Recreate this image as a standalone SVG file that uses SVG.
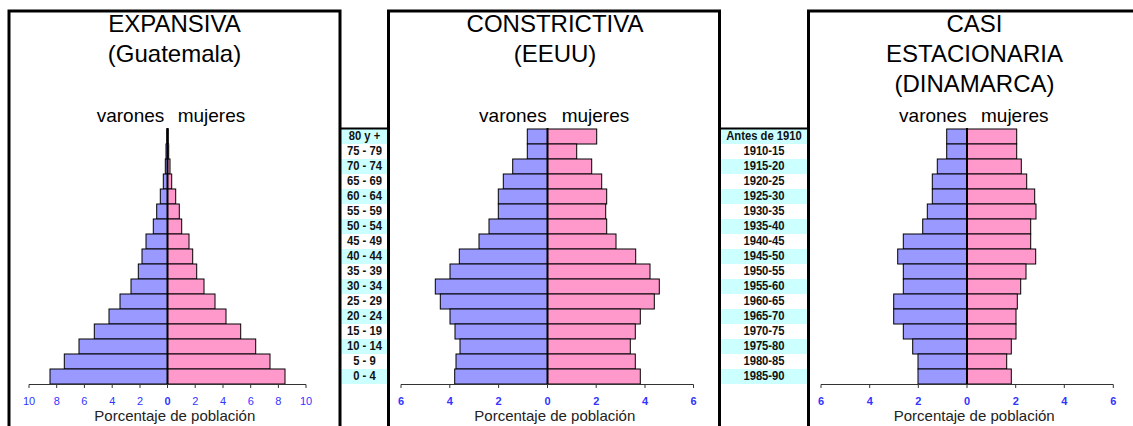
<svg xmlns="http://www.w3.org/2000/svg" width="1133" height="426" viewBox="0 0 1133 426">
<style>
text{font-family:"Liberation Sans",Arial,sans-serif;fill:#000}
.title{font-size:24px;text-anchor:middle}
.sex{font-size:19px}
.e{text-anchor:end}
.tick{font-size:11px;fill:#3333FF;text-anchor:middle}
.tb{font-weight:bold}
.xl{font-size:15px;fill:#222;text-anchor:middle}
.lab{font-family:"Liberation Sans",Arial,sans-serif;font-weight:bold;font-size:12.5px;text-anchor:middle;fill:#111}
.m{fill:#9999FF;stroke:#000;stroke-width:1}
.f{fill:#FF99CC;stroke:#000;stroke-width:1}
.border{fill:none;stroke:#000;stroke-width:3}
.cl{stroke:#000;stroke-width:2}
.axis{fill:none;stroke:#333;stroke-width:1}
.cy{fill:#CCFFFF}
</style>

<!-- label columns -->
<g id="labels-age">
<rect class="cy" x="341.5" y="129" width="45.5" height="15"/>
<rect class="cy" x="341.5" y="159" width="45.5" height="15"/>
<rect class="cy" x="341.5" y="189" width="45.5" height="15"/>
<rect class="cy" x="341.5" y="219" width="45.5" height="15"/>
<rect class="cy" x="341.5" y="249" width="45.5" height="15"/>
<rect class="cy" x="341.5" y="279" width="45.5" height="15"/>
<rect class="cy" x="341.5" y="309" width="45.5" height="15"/>
<rect class="cy" x="341.5" y="339" width="45.5" height="15"/>
<rect class="cy" x="341.5" y="369" width="45.5" height="15"/>
<g transform="scale(0.9,1)">
<text class="lab" x="405" y="140.3">80 y +</text>
<text class="lab" x="405" y="155.3">75 - 79</text>
<text class="lab" x="405" y="170.3">70 - 74</text>
<text class="lab" x="405" y="185.3">65 - 69</text>
<text class="lab" x="405" y="200.3">60 - 64</text>
<text class="lab" x="405" y="215.3">55 - 59</text>
<text class="lab" x="405" y="230.3">50 - 54</text>
<text class="lab" x="405" y="245.3">45 - 49</text>
<text class="lab" x="405" y="260.3">40 - 44</text>
<text class="lab" x="405" y="275.3">35 - 39</text>
<text class="lab" x="405" y="290.3">30 - 34</text>
<text class="lab" x="405" y="305.3">25 - 29</text>
<text class="lab" x="405" y="320.3">20 - 24</text>
<text class="lab" x="405" y="335.3">15 - 19</text>
<text class="lab" x="405" y="350.3">10 - 14</text>
<text class="lab" x="405" y="365.3">5 - 9</text>
<text class="lab" x="405" y="380.3">0 - 4</text>
</g>
</g>

<g id="labels-cohort">
<rect class="cy" x="720.5" y="129" width="86.5" height="15"/>
<rect class="cy" x="720.5" y="159" width="86.5" height="15"/>
<rect class="cy" x="720.5" y="189" width="86.5" height="15"/>
<rect class="cy" x="720.5" y="219" width="86.5" height="15"/>
<rect class="cy" x="720.5" y="249" width="86.5" height="15"/>
<rect class="cy" x="720.5" y="279" width="86.5" height="15"/>
<rect class="cy" x="720.5" y="309" width="86.5" height="15"/>
<rect class="cy" x="720.5" y="339" width="86.5" height="15"/>
<rect class="cy" x="720.5" y="369" width="86.5" height="15"/>
<g transform="scale(0.9,1)">
<text class="lab" x="848.9" y="140.3">Antes de 1910</text>
<text class="lab" x="848.9" y="155.3">1910-15</text>
<text class="lab" x="848.9" y="170.3">1915-20</text>
<text class="lab" x="848.9" y="185.3">1920-25</text>
<text class="lab" x="848.9" y="200.3">1925-30</text>
<text class="lab" x="848.9" y="215.3">1930-35</text>
<text class="lab" x="848.9" y="230.3">1935-40</text>
<text class="lab" x="848.9" y="245.3">1940-45</text>
<text class="lab" x="848.9" y="260.3">1945-50</text>
<text class="lab" x="848.9" y="275.3">1950-55</text>
<text class="lab" x="848.9" y="290.3">1955-60</text>
<text class="lab" x="848.9" y="305.3">1960-65</text>
<text class="lab" x="848.9" y="320.3">1965-70</text>
<text class="lab" x="848.9" y="335.3">1970-75</text>
<text class="lab" x="848.9" y="350.3">1975-80</text>
<text class="lab" x="848.9" y="365.3">1980-85</text>
<text class="lab" x="848.9" y="380.3">1985-90</text>
</g>
</g>

<!-- panel frames -->
<g id="frames">
<path class="border" d="M9,426 V11 H340 V426"/>
<path class="border" d="M388.5,426 V11 H719.5 V426"/>
<path class="border" d="M808.5,426 V11 H1140"/>
<path stroke="#000" stroke-width="2" d="M340,128.5 H388.5 M719.5,128.5 H808.5"/>
</g>

<!-- Panel 1: Guatemala -->
<g id="panel-guatemala">
<text class="title" x="174.5" y="32.3">EXPANSIVA</text>
<text class="title" x="174.5" y="62.3">(Guatemala)</text>
<text class="sex e" x="164.3" y="121.5">varones</text>
<text class="sex" x="177.7" y="121.5">mujeres</text>
<g>
<rect class="m" x="166.8" y="129" width="0.7" height="15"/><rect class="f" x="167.5" y="129" width="0.7" height="15"/>
<rect class="m" x="166" y="144" width="1.5" height="15"/><rect class="f" x="167.5" y="144" width="1.2" height="15"/>
<rect class="m" x="165.3" y="159" width="2.2" height="15"/><rect class="f" x="167.5" y="159" width="2.5" height="15"/>
<rect class="m" x="163.3" y="174" width="4.2" height="15"/><rect class="f" x="167.5" y="174" width="4.2" height="15"/>
<rect class="m" x="160.3" y="189" width="7.2" height="15"/><rect class="f" x="167.5" y="189" width="8.2" height="15"/>
<rect class="m" x="156.7" y="204" width="10.8" height="15"/><rect class="f" x="167.5" y="204" width="11.8" height="15"/>
<rect class="m" x="153.3" y="219" width="14.2" height="15"/><rect class="f" x="167.5" y="219" width="14.2" height="15"/>
<rect class="m" x="146" y="234" width="21.5" height="15"/><rect class="f" x="167.5" y="234" width="21.5" height="15"/>
<rect class="m" x="142" y="249" width="25.5" height="15"/><rect class="f" x="167.5" y="249" width="25.2" height="15"/>
<rect class="m" x="138.3" y="264" width="29.2" height="15"/><rect class="f" x="167.5" y="264" width="29.2" height="15"/>
<rect class="m" x="131" y="279" width="36.5" height="15"/><rect class="f" x="167.5" y="279" width="36.5" height="15"/>
<rect class="m" x="120" y="294" width="47.5" height="15"/><rect class="f" x="167.5" y="294" width="47.5" height="15"/>
<rect class="m" x="109" y="309" width="58.5" height="15"/><rect class="f" x="167.5" y="309" width="58.5" height="15"/>
<rect class="m" x="94.3" y="324" width="73.2" height="15"/><rect class="f" x="167.5" y="324" width="73.2" height="15"/>
<rect class="m" x="79" y="339" width="88.5" height="15"/><rect class="f" x="167.5" y="339" width="88.2" height="15"/>
<rect class="m" x="64.3" y="354" width="103.2" height="15"/><rect class="f" x="167.5" y="354" width="102.5" height="15"/>
<rect class="m" x="50" y="369" width="117.5" height="15"/><rect class="f" x="167.5" y="369" width="117.5" height="15"/>
</g>
<line class="cl" x1="167.5" y1="128" x2="167.5" y2="384"/>
<path class="axis" d="M29,384.5 H306 M29,384.5 V388 M56.7,384.5 V388 M84.4,384.5 V388 M112.2,384.5 V388 M140,384.5 V388 M167.5,384.5 V388 M195.2,384.5 V388 M223,384.5 V388 M250.7,384.5 V388 M278.4,384.5 V388 M306,384.5 V388"/>
<text class="tick" x="29" y="405.3">10</text>
<text class="tick" x="56.7" y="405.3">8</text>
<text class="tick" x="84.4" y="405.3">6</text>
<text class="tick" x="112.2" y="405.3">4</text>
<text class="tick" x="140" y="405.3">2</text>
<text class="tick tb" x="167.5" y="405.3">0</text>
<text class="tick" x="195.2" y="405.3">2</text>
<text class="tick" x="223" y="405.3">4</text>
<text class="tick" x="250.7" y="405.3">6</text>
<text class="tick" x="278.4" y="405.3">8</text>
<text class="tick" x="306" y="405.3">10</text>
<text class="xl" x="174.8" y="421">Porcentaje de población</text>
</g>

<!-- Panel 2: EEUU -->
<g id="panel-eeuu">
<text class="title" x="555" y="32.3">CONSTRICTIVA</text>
<text class="title" x="555" y="62.3">(EEUU)</text>
<text class="sex e" x="546.7" y="121.5">varones</text>
<text class="sex" x="561.7" y="121.5">mujeres</text>
<g>
<rect class="m" x="527.3" y="129" width="20.2" height="15"/><rect class="f" x="547.5" y="129" width="49.2" height="15"/>
<rect class="m" x="527.3" y="144" width="20.2" height="15"/><rect class="f" x="547.5" y="144" width="29.2" height="15"/>
<rect class="m" x="512.7" y="159" width="34.8" height="15"/><rect class="f" x="547.5" y="159" width="44.2" height="15"/>
<rect class="m" x="503.3" y="174" width="44.2" height="15"/><rect class="f" x="547.5" y="174" width="54.2" height="15"/>
<rect class="m" x="498.3" y="189" width="49.2" height="15"/><rect class="f" x="547.5" y="189" width="59.2" height="15"/>
<rect class="m" x="498.3" y="204" width="49.2" height="15"/><rect class="f" x="547.5" y="204" width="58.2" height="15"/>
<rect class="m" x="489" y="219" width="58.5" height="15"/><rect class="f" x="547.5" y="219" width="59.2" height="15"/>
<rect class="m" x="479" y="234" width="68.5" height="15"/><rect class="f" x="547.5" y="234" width="68.5" height="15"/>
<rect class="m" x="459.3" y="249" width="88.2" height="15"/><rect class="f" x="547.5" y="249" width="88.2" height="15"/>
<rect class="m" x="450" y="264" width="97.5" height="15"/><rect class="f" x="547.5" y="264" width="102.5" height="15"/>
<rect class="m" x="435.3" y="279" width="112.2" height="15"/><rect class="f" x="547.5" y="279" width="111.8" height="15"/>
<rect class="m" x="440.3" y="294" width="107.2" height="15"/><rect class="f" x="547.5" y="294" width="106.8" height="15"/>
<rect class="m" x="450" y="309" width="97.5" height="15"/><rect class="f" x="547.5" y="309" width="92.8" height="15"/>
<rect class="m" x="455" y="324" width="92.5" height="15"/><rect class="f" x="547.5" y="324" width="87.8" height="15"/>
<rect class="m" x="460" y="339" width="87.5" height="15"/><rect class="f" x="547.5" y="339" width="82.8" height="15"/>
<rect class="m" x="456" y="354" width="91.5" height="15"/><rect class="f" x="547.5" y="354" width="87.8" height="15"/>
<rect class="m" x="454.7" y="369" width="92.8" height="15"/><rect class="f" x="547.5" y="369" width="92.8" height="15"/>
</g>
<line class="cl" x1="547.5" y1="128" x2="547.5" y2="384"/>
<path class="axis" d="M401,384.5 H693.5 M401,384.5 V388 M449.8,384.5 V388 M498.6,384.5 V388 M547.5,384.5 V388 M596.2,384.5 V388 M645,384.5 V388 M693.5,384.5 V388"/>
<text class="tick tb" x="401" y="405.3">6</text>
<text class="tick tb" x="449.8" y="405.3">4</text>
<text class="tick tb" x="498.6" y="405.3">2</text>
<text class="tick tb" x="547.5" y="405.3">0</text>
<text class="tick tb" x="596.2" y="405.3">2</text>
<text class="tick tb" x="645" y="405.3">4</text>
<text class="tick tb" x="693.5" y="405.3">6</text>
<text class="xl" x="554.8" y="421">Porcentaje de población</text>
</g>

<!-- Panel 3: Dinamarca -->
<g id="panel-dinamarca">
<text class="title" x="974.5" y="32.3">CASI</text>
<text class="title" x="974.5" y="62.3">ESTACIONARIA</text>
<text class="title" x="974.5" y="92.3">(DINAMARCA)</text>
<text class="sex e" x="966.7" y="121.5">varones</text>
<text class="sex" x="981" y="121.5">mujeres</text>
<g>
<rect class="m" x="946.7" y="129" width="20.3" height="15"/><rect class="f" x="967" y="129" width="49.7" height="15"/>
<rect class="m" x="946.7" y="144" width="20.3" height="15"/><rect class="f" x="967" y="144" width="49.7" height="15"/>
<rect class="m" x="937.3" y="159" width="29.7" height="15"/><rect class="f" x="967" y="159" width="54.3" height="15"/>
<rect class="m" x="932.3" y="174" width="34.7" height="15"/><rect class="f" x="967" y="174" width="59.7" height="15"/>
<rect class="m" x="932.3" y="189" width="34.7" height="15"/><rect class="f" x="967" y="189" width="67.7" height="15"/>
<rect class="m" x="927.3" y="204" width="39.7" height="15"/><rect class="f" x="967" y="204" width="69" height="15"/>
<rect class="m" x="922.7" y="219" width="44.3" height="15"/><rect class="f" x="967" y="219" width="63.7" height="15"/>
<rect class="m" x="903.3" y="234" width="63.7" height="15"/><rect class="f" x="967" y="234" width="63.7" height="15"/>
<rect class="m" x="897.7" y="249" width="69.3" height="15"/><rect class="f" x="967" y="249" width="68.7" height="15"/>
<rect class="m" x="903.3" y="264" width="63.7" height="15"/><rect class="f" x="967" y="264" width="59" height="15"/>
<rect class="m" x="903.3" y="279" width="63.7" height="15"/><rect class="f" x="967" y="279" width="53.7" height="15"/>
<rect class="m" x="893.7" y="294" width="73.3" height="15"/><rect class="f" x="967" y="294" width="50.3" height="15"/>
<rect class="m" x="893.7" y="309" width="73.3" height="15"/><rect class="f" x="967" y="309" width="49" height="15"/>
<rect class="m" x="903.3" y="324" width="63.7" height="15"/><rect class="f" x="967" y="324" width="49" height="15"/>
<rect class="m" x="912.7" y="339" width="54.3" height="15"/><rect class="f" x="967" y="339" width="44.3" height="15"/>
<rect class="m" x="918" y="354" width="49" height="15"/><rect class="f" x="967" y="354" width="39.7" height="15"/>
<rect class="m" x="918" y="369" width="49" height="15"/><rect class="f" x="967" y="369" width="44.3" height="15"/>
</g>
<line class="cl" x1="967" y1="128" x2="967" y2="384"/>
<path class="axis" d="M821,384.5 H1113.3 M821,384.5 V388 M869.7,384.5 V388 M918.3,384.5 V388 M967,384.5 V388 M1015.7,384.5 V388 M1064.3,384.5 V388 M1113.3,384.5 V388"/>
<text class="tick tb" x="821" y="405.3">6</text>
<text class="tick tb" x="869.7" y="405.3">4</text>
<text class="tick tb" x="918.3" y="405.3">2</text>
<text class="tick tb" x="967" y="405.3">0</text>
<text class="tick tb" x="1015.7" y="405.3">2</text>
<text class="tick tb" x="1064.3" y="405.3">4</text>
<text class="tick tb" x="1113.3" y="405.3">6</text>
<text class="xl" x="974.2" y="421">Porcentaje de población</text>
</g>
</svg>
